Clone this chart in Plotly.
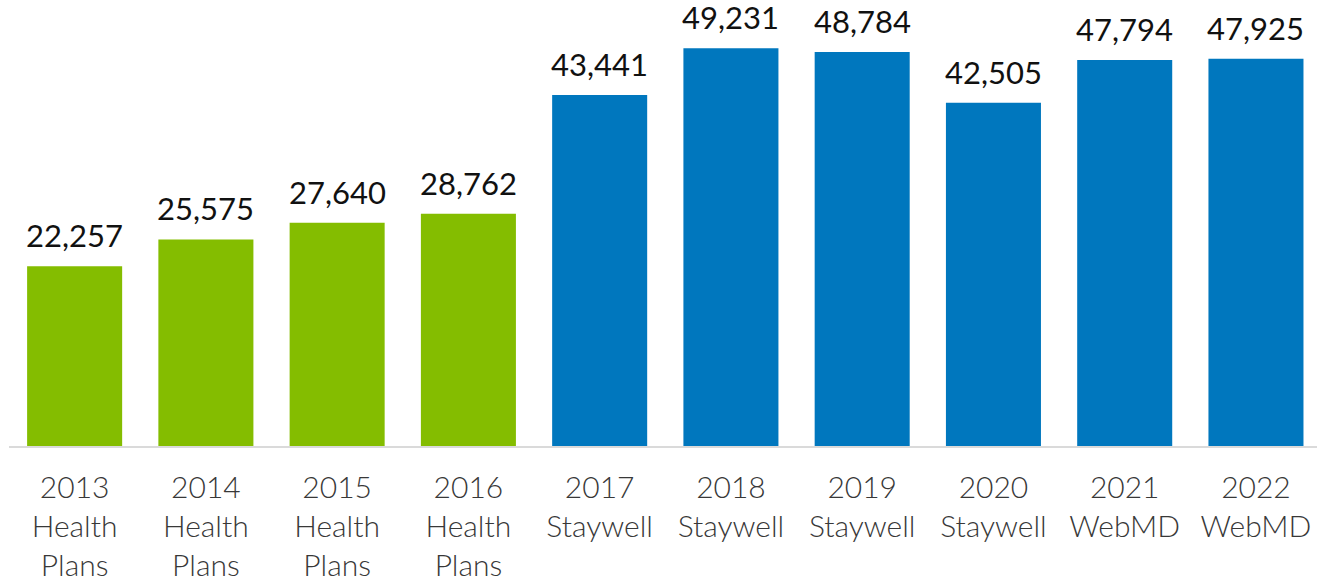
import plotly.graph_objects as go

years = ["2013", "2014", "2015", "2016", "2017", "2018", "2019", "2020", "2021", "2022"]
sources = ["Health<br>Plans"] * 4 + ["Staywell"] * 4 + ["WebMD"] * 2
values = [22257, 25575, 27640, 28762, 43441, 49231, 48784, 42505, 47794, 47925]
colors = ["#84BD00"] * 4 + ["#0077BE"] * 6

cats = [f"{y}<br>{s}" for y, s in zip(years, sources)]
labels = [f"{v:,}" for v in values]

fig = go.Figure(go.Bar(
    x=cats, y=values, marker=dict(color=colors, line=dict(width=0)),
    cliponaxis=False,
))
for c, v, t in zip(cats, values, labels):
    fig.add_annotation(x=c, y=v, text=t, showarrow=False, yanchor="bottom",
                       yshift=10, font=dict(family="Lato", size=31, color="#111111"))
fig.update_layout(
    width=1317, height=580, margin=dict(l=9, r=0, t=0, b=134, autoexpand=False),
    paper_bgcolor="white", plot_bgcolor="white", bargap=0.276,
    showlegend=False,
    xaxis=dict(range=[-0.5, 9.465], showline=True, linecolor="#DADADA", linewidth=2,
               tickfont=dict(family="Lato Light, Lato", size=30, color="#383838", weight=300),
               ticks="", showgrid=False, ticklabelstandoff=14, automargin=False),
    yaxis=dict(range=[0, 55212], visible=False, showgrid=False, automargin=False),
)
fig.write_html("out.html")
